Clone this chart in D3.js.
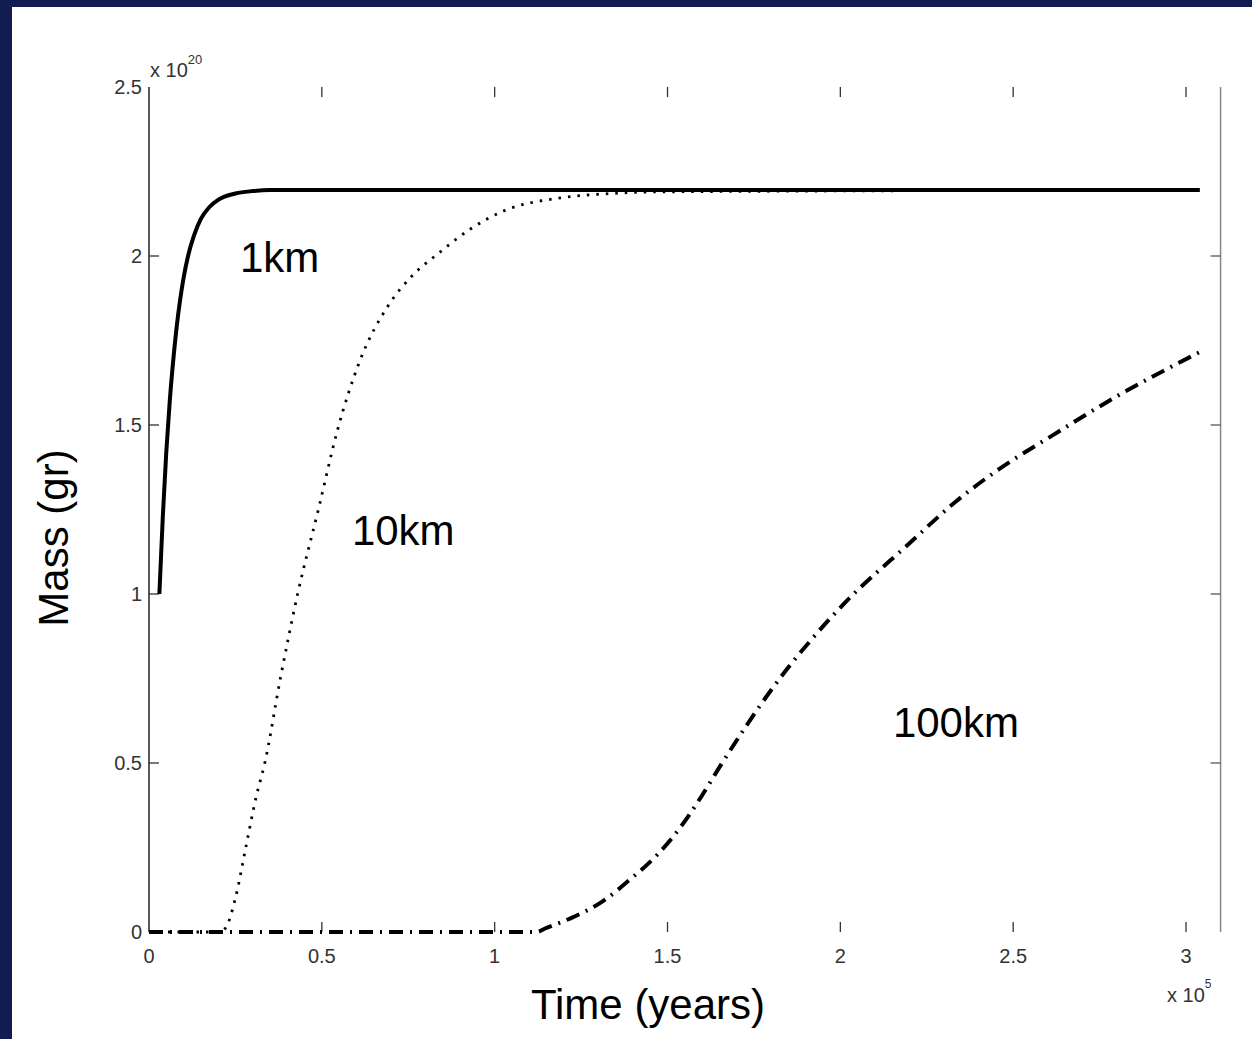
<!DOCTYPE html>
<html>
<head>
<meta charset="utf-8">
<title>Mass vs time</title>
<style>
    body { margin: 0; background: #121c50; }
    svg { display: block; }
    .tick-label { font: 20px "Liberation Sans", Arial, sans-serif; fill: #333; }
    .title { font: 42px "Liberation Sans", Arial, sans-serif; fill: #000; }
    .line { fill: none; stroke: #000; }
</style>
</head>
<body>
<svg></svg>
<script src="https://cdn.jsdelivr.net/npm/d3@7/dist/d3.min.js"></script>
<script>

    // time in units of 1e5 years, mass in units of 1e20 g
    var xTicks = [0, 0.5, 1, 1.5, 2, 2.5, 3];
    var yTicks = [0, 0.5, 1, 1.5, 2, 2.5];

    var km1 = [[0.03, 1.0], [0.04, 1.23], [0.05, 1.42], [0.06, 1.57], [0.07, 1.69], [0.08, 1.79],
        [0.09, 1.87], [0.1, 1.935], [0.113, 2.0], [0.13, 2.06], [0.15, 2.11], [0.175, 2.145],
        [0.2, 2.166], [0.25, 2.185], [0.3, 2.192], [0.35, 2.195], [3.04, 2.195]];

    var km10 = [[0, 0], [0.2, 0], [0.22, 0.01], [0.25, 0.1], [0.28, 0.25], [0.31, 0.4], [0.335, 0.5],
        [0.38, 0.75], [0.43, 1.0], [0.49, 1.25], [0.544, 1.48], [0.61, 1.69], [0.69, 1.85],
        [0.76, 1.94], [0.84, 2.01], [0.93, 2.08], [1.03, 2.135], [1.19, 2.172], [1.34, 2.185],
        [1.5, 2.19], [3.04, 2.195]];

    var km100 = [[0, 0], [1.12, 0], [1.15, 0.012], [1.227, 0.044], [1.31, 0.089], [1.39, 0.154],
        [1.47, 0.228], [1.536, 0.308], [1.588, 0.385], [1.658, 0.5], [1.8, 0.716], [2.0, 0.96],
        [2.2, 1.15], [2.33, 1.27], [2.46, 1.37], [2.615, 1.47], [2.8, 1.585], [3.04, 1.716]];

    var seriesLabels = [
        {text: "1km", t: 0.263, m: 1.953},
        {text: "10km", t: 0.587, m: 1.145},
        {text: "100km", t: 2.152, m: 0.577}
    ];

    var W = 1252, H = 1039;
    var svg = d3.select("svg").attr("width", W).attr("height", H);

    svg.append("rect")
        .attr("x", 12).attr("y", 7)
        .attr("width", W - 12).attr("height", H - 7)
        .attr("fill", "#fff");

    var x = d3.scaleLinear().domain([0, 3.1]).range([149, 149 + 3.1 * 345.67]);
    var y = d3.scaleLinear().domain([0, 2.5]).range([932, 87]);

    var x0 = x(0), x1 = x(3.1), y0 = y(0), y1 = y(2.5);

    // left axis line (dark) and right box line (grey)
    svg.append("line").attr("x1", x0).attr("x2", x0).attr("y1", y1).attr("y2", y0)
        .attr("stroke", "#222").attr("stroke-width", 1.5);
    svg.append("line").attr("x1", x1).attr("x2", x1).attr("y1", y1).attr("y2", y0)
        .attr("stroke", "#888").attr("stroke-width", 1.5);

    // tick marks
    var tl = 10;
    xTicks.slice(1).forEach(function (t) {
        svg.append("line").attr("x1", x(t)).attr("x2", x(t)).attr("y1", y0).attr("y2", y0 - tl)
            .attr("stroke", "#333").attr("stroke-width", 1.3);
        svg.append("line").attr("x1", x(t)).attr("x2", x(t)).attr("y1", y1).attr("y2", y1 + tl)
            .attr("stroke", "#333").attr("stroke-width", 1.3);
    });
    yTicks.slice(1, -1).forEach(function (v) {
        svg.append("line").attr("x1", x0).attr("x2", x0 + tl).attr("y1", y(v)).attr("y2", y(v))
            .attr("stroke", "#333").attr("stroke-width", 1.3);
        svg.append("line").attr("x1", x1).attr("x2", x1 - tl).attr("y1", y(v)).attr("y2", y(v))
            .attr("stroke", "#555").attr("stroke-width", 1.3);
    });

    // tick labels
    svg.selectAll(".xl").data(xTicks).enter().append("text")
        .attr("class", "tick-label")
        .attr("x", function (d) { return x(d); })
        .attr("y", y0 + 31)
        .attr("text-anchor", "middle")
        .text(function (d) { return d; });

    svg.selectAll(".yl").data(yTicks).enter().append("text")
        .attr("class", "tick-label")
        .attr("x", x0 - 7)
        .attr("y", function (d) { return y(d) + 7; })
        .attr("text-anchor", "end")
        .text(function (d) { return d; });

    // exponent markers
    var ey = svg.append("text").attr("class", "tick-label").attr("x", x0 + 1).attr("y", 77)
        .style("font-size", "20px");
    ey.append("tspan").text("x 10");
    ey.append("tspan").attr("dy", -13).style("font-size", "13px").text("20");

    var ex = svg.append("text").attr("class", "tick-label").attr("x", 1167).attr("y", 1002)
        .style("font-size", "20px");
    ex.append("tspan").text("x 10");
    ex.append("tspan").attr("dy", -14).style("font-size", "12px").text("5");

    // curves
    var line = d3.line()
        .x(function (d) { return x(d[0]); })
        .y(function (d) { return y(d[1]); })
        .curve(d3.curveMonotoneX);

    svg.append("path").datum(km100).attr("class", "line")
        .attr("d", line)
        .attr("stroke-width", 4)
        .attr("stroke-dasharray", "14,7,2,7");

    svg.append("path").datum(km10).attr("class", "line")
        .attr("d", line)
        .attr("stroke-width", 2.8)
        .attr("stroke-dasharray", "2.5,7");

    svg.append("path").datum(km1).attr("class", "line")
        .attr("d", line)
        .attr("stroke-width", 4);

    // curve labels
    svg.selectAll(".cl").data(seriesLabels).enter().append("text")
        .attr("class", "title")
        .attr("x", function (d) { return x(d.t); })
        .attr("y", function (d) { return y(d.m); })
        .text(function (d) { return d.text; });

    // axis titles
    svg.append("text").attr("class", "title")
        .attr("x", 648).attr("y", 1019)
        .attr("text-anchor", "middle")
        .text("Time (years)");

    svg.append("text").attr("class", "title")
        .attr("transform", "translate(68,538) rotate(-90)")
        .attr("text-anchor", "middle")
        .text("Mass (gr)");

</script>
</body>
</html>
